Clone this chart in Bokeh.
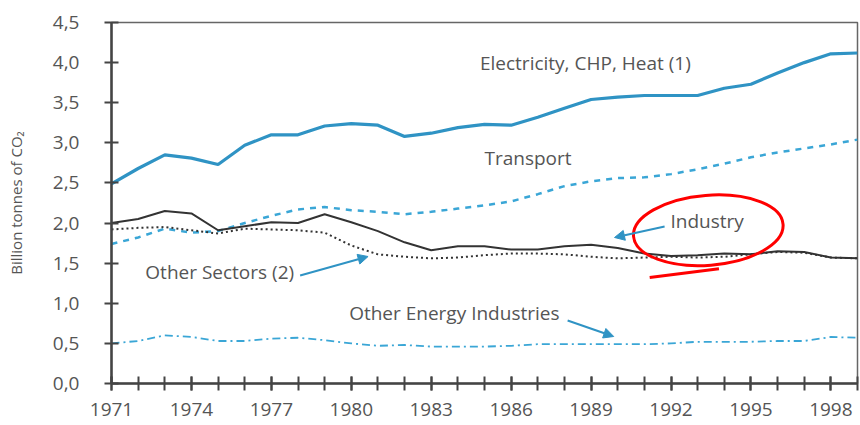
from bokeh.plotting import figure
from bokeh.models import (Range1d, FixedTicker, Label, Arrow, NormalHead, ColumnDataSource)
from bokeh.embed import file_html
from bokeh.resources import INLINE

years = list(range(1971, 2000))
electricity = [2.49, 2.68, 2.85, 2.81, 2.73, 2.97, 3.10, 3.10, 3.21, 3.24, 3.22, 3.08, 3.12, 3.19,
               3.23, 3.22, 3.32, 3.43, 3.54, 3.57, 3.59, 3.59, 3.59, 3.68, 3.73, 3.87, 4.00, 4.11, 4.12]
transport = [1.74, 1.82, 1.93, 1.88, 1.90, 2.00, 2.09, 2.17, 2.20, 2.16, 2.14, 2.11, 2.14, 2.18,
             2.22, 2.27, 2.36, 2.46, 2.52, 2.56, 2.57, 2.61, 2.67, 2.74, 2.82, 2.88, 2.93, 2.98, 3.04]
industry = [2.00, 2.05, 2.15, 2.12, 1.91, 1.96, 2.01, 2.00, 2.11, 2.01, 1.90, 1.76, 1.66, 1.71,
            1.71, 1.67, 1.67, 1.71, 1.73, 1.69, 1.62, 1.59, 1.60, 1.62, 1.61, 1.65, 1.64, 1.57, 1.56]
other_sectors = [1.92, 1.94, 1.95, 1.91, 1.87, 1.93, 1.92, 1.91, 1.88, 1.72, 1.61, 1.58, 1.56, 1.57,
                 1.60, 1.62, 1.62, 1.61, 1.58, 1.56, 1.57, 1.58, 1.57, 1.58, 1.61, 1.64, 1.63, 1.57, 1.56]
other_energy = [0.50, 0.53, 0.60, 0.58, 0.53, 0.53, 0.56, 0.57, 0.54, 0.50, 0.47, 0.48, 0.46, 0.46,
                0.46, 0.47, 0.49, 0.49, 0.49, 0.49, 0.49, 0.50, 0.52, 0.52, 0.52, 0.53, 0.53, 0.58, 0.57]

x_tick_years = list(range(1971, 1999, 3))
y_ticks = [0.0, 0.5, 1.0, 1.5, 2.0, 2.5, 3.0, 3.5, 4.0, 4.5]
y_tick_labels = ["0,0", "0,5", "1,0", "1,5", "2,0", "2,5", "3,0", "3,5", "4,0", "4,5"]

FONT = "Open Sans"
TXT = "#555555"
BLUE = "#2f93c4"
LBLUE = "#3aa6d6"

p = figure(width=859, height=424, output_backend="svg", toolbar_location=None,
           x_range=Range1d(1971, 1999), y_range=Range1d(0, 4.5),
           min_border_left=111, min_border_right=2, min_border_top=22, min_border_bottom=41)
p.grid.visible = False
p.outline_line_color = "#666666"
p.outline_line_width = 1.5
p.background_fill_color = "white"
p.border_fill_color = "white"

src = ColumnDataSource(dict(year=years, el=electricity, tr=transport, ind=industry,
                            os=other_sectors, oe=other_energy))
p.line("year", "el", source=src, line_color=BLUE, line_width=3.2)
p.line("year", "tr", source=src, line_color=LBLUE, line_width=2.5, line_dash="6 6")
p.line("year", "ind", source=src, line_color="#333333", line_width=2)
p.line("year", "os", source=src, line_color="#333333", line_width=2, line_dash="2 3")
p.line("year", "oe", source=src, line_color=LBLUE, line_width=1.8, line_dash="8 4 2 4")

# axes
for ax in (p.xaxis[0], p.yaxis[0]):
    ax.axis_line_color = "#444444"
    ax.axis_line_width = 2.5
    ax.major_tick_line_color = "#444444"
    ax.major_tick_line_width = 2
    ax.minor_tick_line_color = "#444444"
    ax.minor_tick_line_width = 2
    ax.major_tick_in = 7
    ax.major_tick_out = 7
    ax.minor_tick_in = 7
    ax.minor_tick_out = 7
    ax.major_label_text_font = FONT
    ax.major_label_text_font_size = "19px"
    ax.major_label_text_color = TXT

p.xaxis.ticker = FixedTicker(ticks=x_tick_years, minor_ticks=years)
p.xaxis.major_label_standoff = 12
p.yaxis.ticker = FixedTicker(ticks=y_ticks)
p.yaxis.minor_tick_in = 0
p.yaxis.minor_tick_out = 0
p.yaxis.major_label_overrides = {t: l for t, l in zip(y_ticks, y_tick_labels)}
p.yaxis.major_label_standoff = 25
p.yaxis.axis_label = "Billion tonnes of CO\u2082"
p.yaxis.axis_label_text_font = FONT
p.yaxis.axis_label_text_font_style = "normal"
p.yaxis.axis_label_text_font_size = "15px"
p.yaxis.axis_label_text_color = TXT
p.yaxis.axis_label_standoff = 24

# series labels
labels = [
    ("Electricity, CHP, Heat (1)", 1984.83, 4.00),
    ("Transport", 1985.0, 2.805),
    ("Industry", 1991.98, 2.02),
    ("Other Sectors (2)", 1972.27, 1.396),
    ("Other Energy Industries", 1979.92, 0.885),
]
for t, x, y in labels:
    p.add_layout(Label(x=x, y=y, text=t, text_font=FONT, text_font_size="19px",
                       text_color=TXT, text_baseline="middle", text_align="left"))

arrows = [
    (1991.76, 1.957, 1989.88, 1.82),
    (1978.08, 1.346, 1980.63, 1.583),
    (1988.12, 0.785, 1989.85, 0.586),
]
for xs, ys, xe, ye in arrows:
    p.add_layout(Arrow(x_start=xs, y_start=ys, x_end=xe, y_end=ye,
                       line_color=BLUE, line_width=2,
                       end=NormalHead(size=10, fill_color=BLUE, line_color=BLUE)))

# hand-drawn red highlight
p.ellipse(x=[1993.4], y=[1.91], width=[150], height=[70], width_units="screen",
          height_units="screen", angle=0.08, fill_alpha=0, line_color="red", line_width=3)
p.line(x=[1991.2, 1993.8], y=[1.32, 1.43], line_color="red", line_width=3)

open("out.html", "w").write(file_html(p, INLINE))
